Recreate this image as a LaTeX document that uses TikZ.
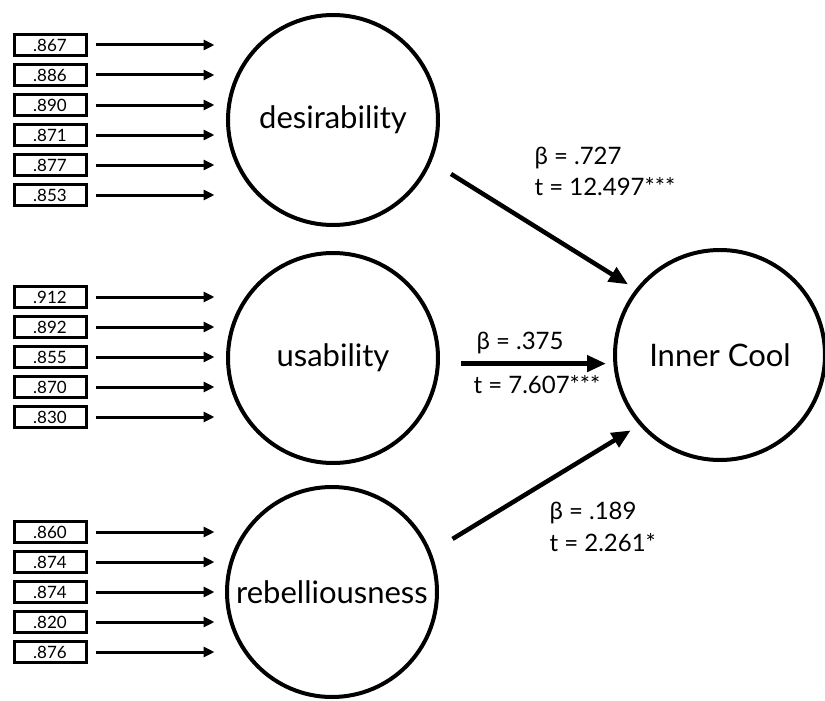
\documentclass[tikz,border=0pt]{standalone}
\usepackage{fontspec}
\setmainfont{Lato}
\usetikzlibrary{arrows.meta}

\begin{document}
\begin{tikzpicture}[x=1pt, y=-1pt,
  latent/.style={circle, draw, line width=4pt, minimum size=210pt, inner sep=0pt, font=\fontsize{31}{37}\selectfont},
  loadbox/.style={draw, line width=3pt, minimum width=72pt, minimum height=21pt, inner sep=0pt, font=\fontsize{17}{19}\selectfont},
  inarrow/.style={-{Triangle[length=11pt, width=10pt]}, line width=3pt},
  patharrow/.style={-{Triangle[length=19pt, width=16pt]}, line width=4.5pt},
  coef/.style={font=\fontsize{24}{28}\selectfont, anchor=west}]
  \useasboundingbox (0,0) rectangle (825,701);

  % Latent constructs
  \node[latent] (des) at (333,120) {desirability};
  \node[latent] (use) at (333,358) {usability};
  \node[latent] (reb) at (332,592) {rebelliousness};
  \node[latent] (cool) at (720,355) {Inner Cool};

  % Indicator loadings
  \foreach \v [count=\i] in {.867,.886,.890,.871,.877,.853} {
    \node[loadbox] (d\i) at (50, 15+30*\i) {\v};
    \draw[inarrow] ([xshift=8pt]d\i.east) -- ++(119,0);
  }
  \foreach \v [count=\i] in {.912,.892,.855,.870,.830} {
    \node[loadbox] (u\i) at (50, 267+30*\i) {\v};
    \draw[inarrow] ([xshift=8pt]u\i.east) -- ++(119,0);
  }
  \foreach \v [count=\i] in {.860,.874,.874,.820,.876} {
    \node[loadbox] (r\i) at (50, 502+30*\i) {\v};
    \draw[inarrow] ([xshift=8pt]r\i.east) -- ++(119,0);
  }

  % Structural paths
  \draw[patharrow, shorten <=23pt, shorten >=9pt] (des.-23) -- (cool.142);
  \draw[patharrow, shorten <=21pt, shorten >=7pt] (use.-3) -- (use.-3 -| cool.west);
  \draw[patharrow, shorten <=25pt, shorten >=10pt] (reb.22) -- (cool.221);

  % Path coefficients
  \node[coef] (beta1) at (531,158) {β = .727};
  \node[coef] (tval1) at (531,187) {t = 12.497***};
  \node[coef] (beta2) at (473,343) {β = .375};
  \node[coef] (tval2) at (470,385) {t = 7.607***};
  \node[coef] (beta3) at (546,513) {β = .189};
  \node[coef] (tval3) at (546,543) {t = 2.261*};
\end{tikzpicture}
\end{document}
